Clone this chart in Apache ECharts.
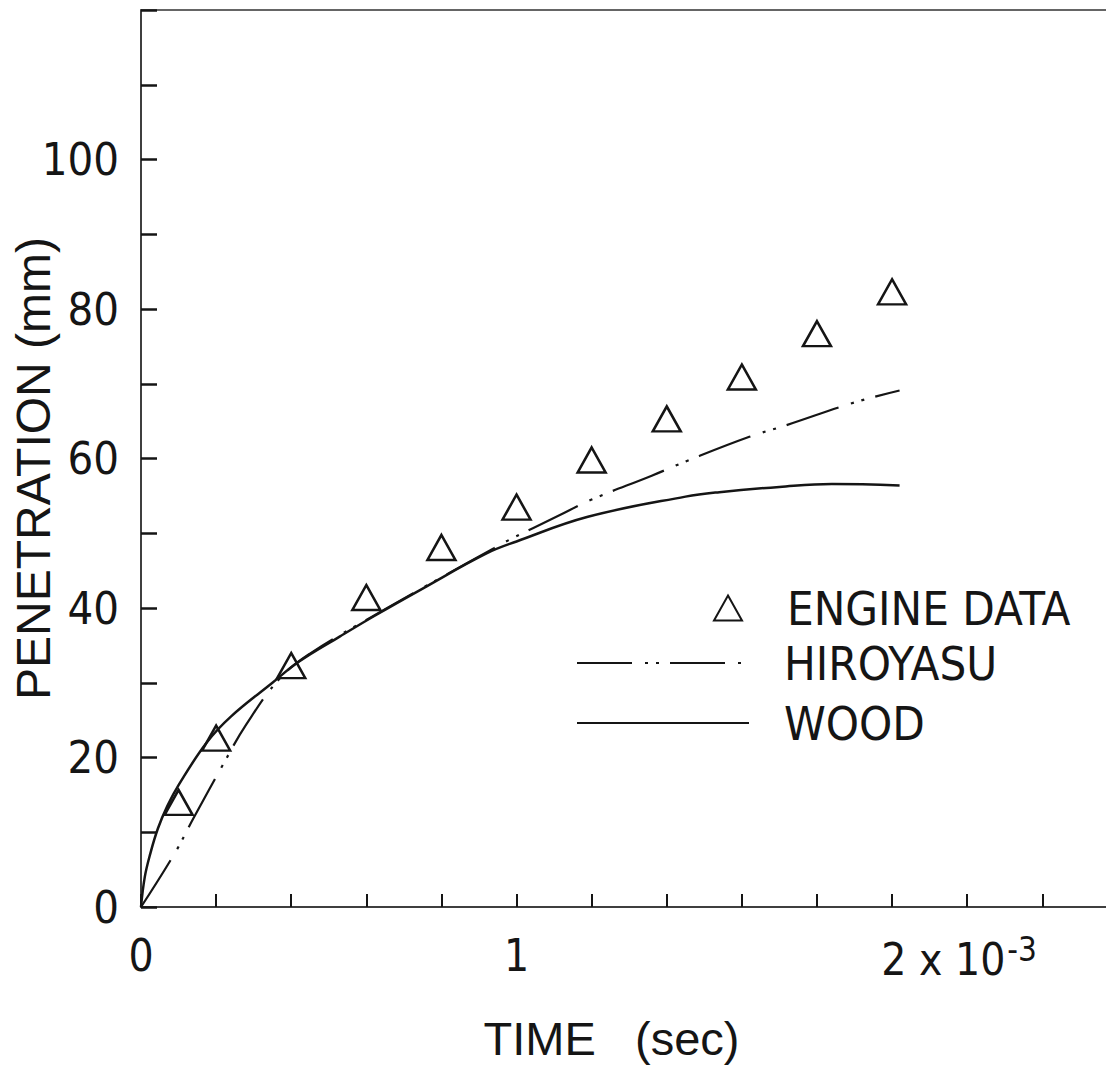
<!DOCTYPE html>
<html>
<head>
<meta charset="utf-8">
<script src="https://cdn.jsdelivr.net/npm/echarts@6/dist/echarts.min.js"></script>
<style>
  html, body { margin: 0; padding: 0; background: #fff; }
  #chart { width: 1106px; height: 1069px; }
</style>
</head>
<body>
<div id="chart"></div>
<script>
// values (time in 10^-3 s, penetration in mm)
const engineTime = [0.1, 0.2, 0.4, 0.6, 0.8, 1.0, 1.2, 1.4, 1.6, 1.8, 2.0];
const enginePen = [14.0, 22.6, 32.3, 41.4, 48.1, 53.5, 59.8, 65.3, 70.9, 76.7, 82.3];

const hiroyasuTime = [0, 0.09, 0.14, 0.22, 0.28, 0.37, 0.45, 0.6, 0.8, 0.94, 0.98, 1.11, 1.2, 1.36, 1.46, 1.62, 1.715, 1.9, 2.02];
const hiroyasuPen = [0, 7.2, 11.9, 19.2, 24.4, 30.6, 33.9, 38.4, 44.1, 48.0, 49.1, 52.3, 54.5, 57.7, 59.8, 62.9, 64.4, 67.5, 69.1];

const woodTime = [0, 0.01, 0.024, 0.045, 0.07, 0.1, 0.175, 0.24, 0.35, 0.42, 0.53, 0.62, 0.75, 0.92, 1.0, 1.19, 1.45, 1.54, 1.7, 1.84, 2.02];
const woodPen = [0, 4.0, 7.0, 10.5, 13.5, 16.3, 22.0, 25.5, 30.0, 32.8, 36.2, 38.9, 42.6, 47.3, 48.9, 52.2, 54.9, 55.5, 56.2, 56.6, 56.4];

const xLabels = { 0: '0', 1: '1', 2: '{p| }{n|2 x 10}{s|-3}' };
const yLabels = [0, 20, 40, 60, 80, 100];

const narrow = "'Liberation Sans Narrow', 'DejaVu Sans Condensed', sans-serif";
const regular = "'Liberation Sans', Arial, sans-serif";
const ink = '#151515';

const zip = (xs, ys) => xs.map((x, i) => [x, ys[i]]);

const chart = echarts.init(document.getElementById('chart'), null, { renderer: 'svg' });

const option = {
  backgroundColor: '#fff',
  animation: false,
  grid: {
    left: 141,
    right: -2,
    top: 10,
    bottom: 162,
    show: true,
    borderColor: '#333',
    borderWidth: 1.5,
    outerBoundsMode: 'none'
  },
  legend: [
    {
      data: ['ENGINE DATA'],
      left: 713,
      top: 583,
      padding: 0,
      itemWidth: 28,
      itemHeight: 25,
      selectedMode: false,
      textStyle: { fontFamily: narrow, fontSize: 47, color: ink, lineHeight: 50, padding: [0, 0, 0, 40] }
    },
    {
      data: ['HIROYASU', 'WOOD'],
      orient: 'vertical',
      left: 576,
      top: 638,
      padding: 0,
      itemWidth: 172,
      itemHeight: 14,
      itemGap: 10,
      selectedMode: false,
      itemStyle: { opacity: 0 },
      textStyle: { fontFamily: narrow, fontSize: 47, color: ink, lineHeight: 50, padding: [0, 0, 0, 30] }
    }
  ],
  xAxis: {
    type: 'value',
    min: 0,
    max: 2.575,
    interval: 0.2,
    name: 'TIME   (sec)',
    nameLocation: 'middle',
    nameGap: 108,
    nameMoveOverlap: false,
    nameTextStyle: { fontFamily: regular, fontSize: 47, color: ink, padding: [0, 26, 0, 0] },
    splitLine: { show: false },
    axisLine: { lineStyle: { color: '#333', width: 1.5 } },
    axisTick: { inside: true, length: 13, lineStyle: { color: ink, width: 2 } },
    axisLabel: {
      margin: 26,
      color: ink,
      fontFamily: narrow,
      fontSize: 44,
      showMaxLabel: false,
      formatter: function (v) {
        for (const k in xLabels) {
          if (Math.abs(v - Number(k)) < 1e-6) return xLabels[k];
        }
        return '';
      },
      rich: {
        p: { width: 134, fontSize: 44 },
        n: { fontFamily: narrow, fontSize: 44, color: ink },
        s: { fontFamily: narrow, fontSize: 33, color: ink, padding: [0, 0, 20, 2] }
      }
    }
  },
  yAxis: {
    type: 'value',
    min: 0,
    max: 120,
    interval: 10,
    name: 'PENETRATION (mm)',
    nameLocation: 'middle',
    nameGap: 84,
    nameMoveOverlap: false,
    nameTextStyle: { fontFamily: regular, fontSize: 48, color: ink, padding: [0, 20, 0, 0] },
    splitLine: { show: false },
    axisLine: { lineStyle: { color: '#333', width: 1.5 } },
    axisTick: { inside: true, length: 16, lineStyle: { color: ink, width: 2.5 } },
    axisLabel: {
      margin: 22,
      color: ink,
      fontFamily: narrow,
      fontSize: 45,
      formatter: v => (yLabels.indexOf(v) >= 0 ? String(v) : '')
    }
  },
  series: [
    {
      name: 'ENGINE DATA',
      type: 'scatter',
      symbol: 'triangle',
      symbolSize: [28, 25],
      data: zip(engineTime, enginePen),
      itemStyle: { color: 'rgba(0,0,0,0)', borderColor: ink, borderWidth: 2.5, opacity: 1 },
      z: 5
    },
    {
      name: 'HIROYASU',
      type: 'line',
      symbol: 'none',
      smooth: 0.4,
      data: zip(hiroyasuTime, hiroyasuPen),
      lineStyle: { color: ink, width: 2.2, type: [55, 13, 3, 8, 3, 11] },
      itemStyle: { color: ink }
    },
    {
      name: 'WOOD',
      type: 'line',
      symbol: 'none',
      smooth: 0.4,
      data: zip(woodTime, woodPen),
      lineStyle: { color: ink, width: 2.5, type: 'solid' },
      itemStyle: { color: ink }
    }
  ]
};

chart.setOption(option);
</script>
</body>
</html>
